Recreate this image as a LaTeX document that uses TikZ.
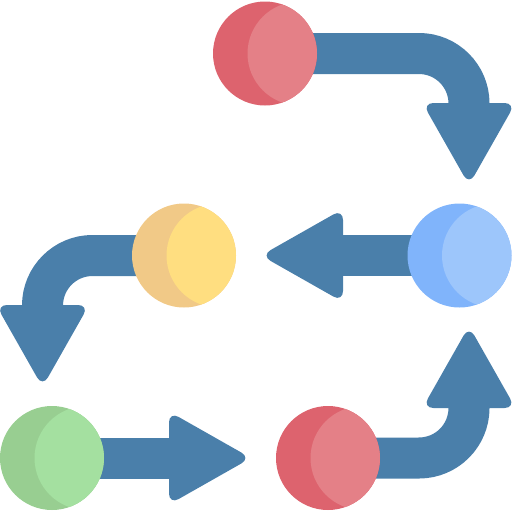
\documentclass[tikz,border=0pt]{standalone}
\usetikzlibrary{backgrounds}
\definecolor{flow}{HTML}{4A7FAA}
\definecolor{reddark}{HTML}{DD636E}
\definecolor{redlight}{HTML}{E48087}
\definecolor{bluedark}{HTML}{80B4FB}
\definecolor{bluelight}{HTML}{9DC6FB}
\definecolor{yellowdark}{HTML}{F1C987}
\definecolor{yellowlight}{HTML}{FFDE80}
\definecolor{greendark}{HTML}{98CE91}
\definecolor{greenlight}{HTML}{A4E0A0}
\begin{document}
\begin{tikzpicture}[x=1pt, y=-1pt,
    ball/.style 2 args={circle, inner sep=0pt, minimum size=104pt, fill=#1,
      path picture={\fill[#2] ([xshift=34.5pt]path picture bounding box.center) circle (52pt);}},
    band/.style={draw=flow, line width=41pt, rounded corners=50pt},
    head/.style={fill=flow, rounded corners=11pt}]
    \useasboundingbox (0,0) rectangle (512,512);
    % the five stations
    \node[ball={reddark}{redlight}] (start) at (265,53.5) {};
    \node[ball={bluedark}{bluelight}] (blue) at (459.5,255.5) {};
    \node[ball={yellowdark}{yellowlight}] (yellow) at (184,255.5) {};
    \node[ball={greendark}{greenlight}] (green) at (52,458) {};
    \node[ball={reddark}{redlight}] (finish) at (328,458) {};
    % arrows behind them
    \begin{scope}[on background layer]
        \coordinate (end1) at (469,125);
        \coordinate (end2) at (322,255.5);
        \coordinate (end3) at (42.5,325);
        \coordinate (end4) at (190,458);
        \coordinate (end5) at (469,388);
        \draw[band] (start.center) -- (469,53.5) -- (end1);
        \fill[head] (422.5,103) -- (515.5,103) -- (469,185) -- cycle;
        \draw[band] (blue.center) -- (end2);
        \fill[head] (343,209) -- (343,302) -- (261,255.5) -- cycle;
        \draw[band] (yellow.center) -- (42.5,255.5) -- (end3);
        \fill[head] (-4,305) -- (89,305) -- (42.5,387) -- cycle;
        \draw[band] (green.center) -- (end4);
        \fill[head] (169,411.5) -- (169,504.5) -- (251,458) -- cycle;
        \draw[band] (finish.center) -- (469,458) -- (end5);
        \fill[head] (422.5,408) -- (515.5,408) -- (469,326) -- cycle;
    \end{scope}
\end{tikzpicture}
\end{document}
